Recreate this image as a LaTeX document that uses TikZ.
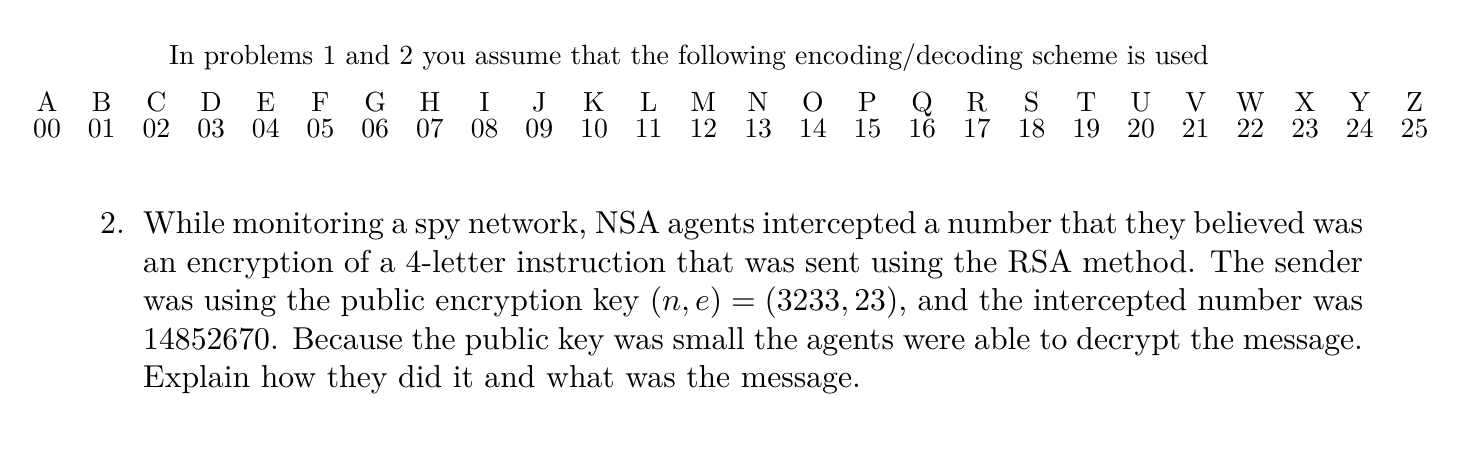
\documentclass[tikz,border=0pt]{standalone}
\usepackage{graphicx}
\begin{document}
\begin{tikzpicture}[x=1pt,y=-1pt,
  hdr/.style={inner sep=0pt},
  cell/.style={inner sep=0pt,anchor=base}]
\useasboundingbox (0,0) rectangle (1468,469);
\node[hdr,anchor=base] (h) at (689,64) {\scalebox{2.77}{In problems 1 and 2 you assume that the following encoding/decoding scheme is used}};
\foreach \L [count=\i from 0] in {A,B,C,D,E,F,G,H,I,J,K,L,M,N,O,P,Q,R,S,T,U,V,W,X,Y,Z}{
  \pgfmathsetmacro{\xx}{47+\i*54.7}
  \node[cell] (l\i) at (\xx,111) {\scalebox{2.77}{\L}};
  \node[cell] (n\i) at (\xx,137) {\scalebox{2.77}{\ifnum\i<10 0\fi\i}};
}
\node[inner sep=0pt,anchor=base west] (num) at (100,233) {\scalebox{3.17}{2.}};
\node[inner sep=0pt,anchor=north west] (body) at (143,211)
{\scalebox{3.17}{\parbox[t]{384.8pt}{\baselineskip=12.15pt While monitoring a spy network, NSA agents intercepted a number that they believed was an encryption of a 4-letter instruction that was sent using the RSA method. The sender was using the public encryption key $(n,e)=(3233,23)$, and the intercepted number was 14852670. Because the public key was small the agents were able to decrypt the message. Explain how they did it and what was the message.}}};
\end{tikzpicture}
\end{document}
